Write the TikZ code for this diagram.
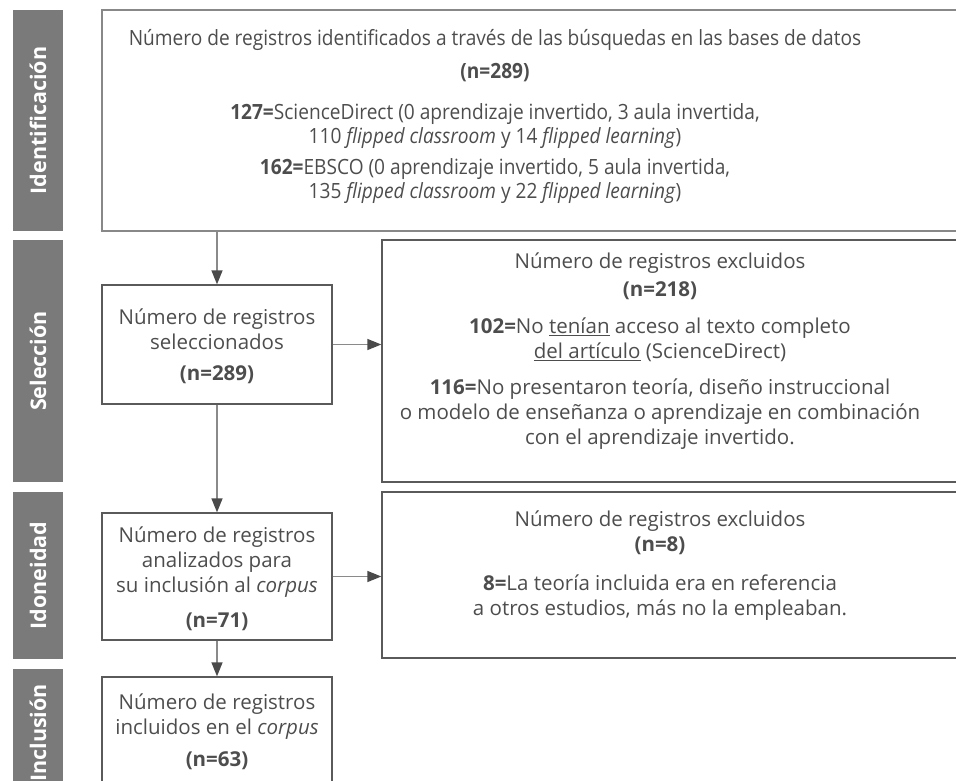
\documentclass[tikz,border=0pt]{standalone}
\usepackage{fontspec}
\setmainfont{Open Sans}
\newfontfamily\condf[FakeStretch=0.91]{Open Sans}
\usetikzlibrary{arrows.meta}
\definecolor{txt}{HTML}{4D4D4D}
\definecolor{barc}{HTML}{7A7A7A}
\definecolor{boxc}{HTML}{5A5A5A}
\definecolor{topc}{HTML}{888888}
\definecolor{shaft}{HTML}{8A8A8A}
\definecolor{headc}{HTML}{4A4A4A}
\begin{document}
\begin{tikzpicture}[x=1pt,y=-1pt,
  stagebar/.style={fill=barc,draw=none,inner sep=0pt,minimum height=50pt,text=white,
    font=\fontsize{21.5}{24}\selectfont\bfseries},
  boxn/.style={draw=boxc,line width=1.3pt,inner sep=0pt},
  tline/.style={text=txt,align=center,inner sep=0pt,font=\fontsize{20.5}{25}\selectfont},
  cline/.style={text=txt,align=center,inner sep=0pt,font=\condf\fontsize{21}{24.5}\selectfont},
  arr/.style={draw=shaft,line width=1.3pt,-{Triangle[length=14pt,width=11pt,color=headc]}}
]
\useasboundingbox (0,0) rectangle (956,781);
% stage bars
\node[stagebar,minimum width=221pt,rotate=90] (b1) at (38,120.5) {Identificación};
\node[stagebar,minimum width=242pt,rotate=90] (b2) at (38,361) {Selección};
\node[stagebar,minimum width=167pt,rotate=90] (b3) at (38,575.5) {Idoneidad};
\node[stagebar,minimum width=131pt,rotate=90] (b4) at (38,734.5) {};
\node[text=white,font=\fontsize{21.5}{24}\selectfont\bfseries,rotate=90,inner sep=0pt] (b4t) at (38,733) {Inclusión};
% boxes
\node[boxn,draw=topc,minimum width=898pt,minimum height=221pt] (top) at (551,120.5) {};
\node[boxn,minimum width=230pt,minimum height=119pt] (sel) at (217,344.5) {};
\node[boxn,minimum width=230pt,minimum height=127pt] (ana) at (217,576.5) {};
\node[boxn,minimum width=230pt,minimum height=123pt] (inc) at (217,738.5) {};
\node[boxn,minimum width=618pt,minimum height=242pt] (ex1) at (691,361) {};
\node[boxn,minimum width=618pt,minimum height=166pt] (ex2) at (691,575) {};
% top texts
\node[cline] (t1) at (495,40) {Número de registros identificados a través de las búsquedas en las bases de datos};
\node[cline,font=\condf\bfseries\fontsize{21}{24.5}\selectfont] (t2) at (495,73) {(n=289)};
\node[cline] (t3) at (495,126) {\textbf{127=}ScienceDirect (0 aprendizaje invertido, 3 aula invertida,\\110 \textit{flipped classroom} y 14 \textit{flipped learning})};
\node[cline] (t4) at (495,181) {\textbf{162=}EBSCO (0 aprendizaje invertido, 5 aula invertida,\\135 \textit{flipped classroom} y 22 \textit{flipped learning})};
% excluded 1
\node[tline] (e1) at (660,276) {Número de registros excluidos\\[3pt]\textbf{(n=218)}};
\node[tline] (e2) at (660,339.5) {\textbf{102=}No \underline{tenían} acceso al texto completo\\\underline{del artículo} (ScienceDirect)};
\node[tline] (e3) at (660,414) {\textbf{116=}No presentaron teoría, diseño instruccional\\o modelo de enseñanza o aprendizaje en combinación\\con el aprendizaje invertido.};
% excluded 2
\node[tline] (f1) at (660,533) {Número de registros excluidos\\\textbf{(n=8)}};
\node[tline] (f2) at (660,597.5) {\textbf{8=}La teoría incluida era en referencia\\a otros estudios, más no la empleaban.};
% left column texts
\node[tline] (s1) at (217,329) {Número de registros\\seleccionados};
\node[tline] (s2) at (217,375) {\textbf{(n=289)}};
\node[tline] (a1) at (217,562) {Número de registros\\analizados para\\su inclusión al \textit{corpus}};
\node[tline] (a2) at (217,622) {\textbf{(n=71)}};
\node[tline] (i1) at (217,717) {Número de registros\\incluidos en el \textit{corpus}};
\node[tline] (i2) at (217,761) {\textbf{(n=63)}};
% arrows
\draw[arr] (sel.north |- top.south) -- (sel.north);
\draw[arr] (sel.south) -- (ana.north);
\draw[arr] (sel.east) -- (sel.east -| ex1.west);
\draw[arr] (ana.east) -- (ana.east -| ex2.west);
\draw[arr] (ana.south) -- (inc.north);
\end{tikzpicture}
\end{document}
